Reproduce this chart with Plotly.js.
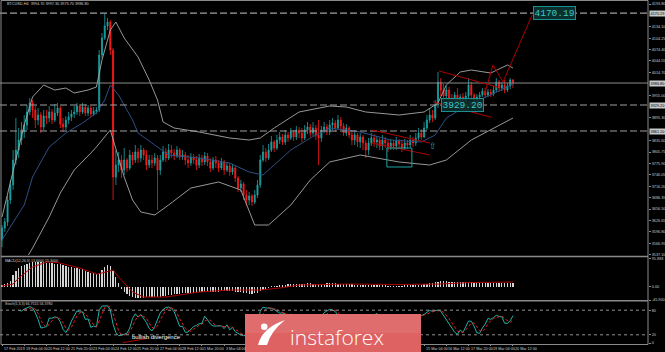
<!DOCTYPE html>
<html><head><meta charset="utf-8">
<script src="https://cdn.plot.ly/plotly-3.0.1.min.js"></script>
<style>html,body{margin:0;padding:0;background:#000;overflow:hidden}#chart{width:665px;height:352px}</style>
</head><body><div id="chart"></div>
<script>
// ---------------- DATA ----------------
const symbolTitle = 'BTCUSD,H4';
const firstOpen = 3575.5;   // open of the first H4 bar; later opens = previous close (24/7 market)
const close = [
3606.9,3622.7,3680.3,3719.6,3785.1,3811.3,3837.5,3858.5,3876.8,3910.9,
3934.4,3916.1,3889.9,3903.0,3871.6,3900.4,3895.1,3910.9,3889.9,3908.2,
3921.3,3879.4,3871.6,3889.9,3897.8,3905.6,3910.9,3926.6,3910.9,3924.0,
3908.2,3921.3,3905.6,3913.5,3916.1,4060.2,4104.7,4136.2,4146.7,4073.3,
3740.6,3772.0,3785.1,3758.9,3785.1,3764.1,3798.2,3785.1,3806.1,3790.3,
3811.3,3798.2,3772.0,3785.1,3777.2,3790.3,3758.9,3785.1,3806.1,3790.3,
3811.3,3803.4,3795.6,3811.3,3793.0,3798.2,3785.1,3777.2,3793.0,3785.1,
3772.0,3790.3,3779.9,3795.6,3779.9,3764.1,3785.1,3777.2,3764.1,3779.9,
3758.9,3769.4,3753.7,3764.1,3737.9,3711.7,3722.2,3693.4,3680.3,3690.8,
3675.1,3693.4,3719.6,3785.1,3806.1,3790.3,3811.3,3832.3,3816.5,3837.5,
3845.4,3832.3,3850.6,3842.7,3858.5,3845.4,3863.7,3855.8,3842.7,3863.7,
3871.6,3855.8,3868.9,3850.6,3842.7,3863.7,3871.6,3858.5,3876.8,3882.0,
3868.9,3889.9,3874.2,3855.8,3868.9,3850.6,3837.5,3850.6,3832.3,3845.4,
3829.6,3811.3,3829.6,3842.7,3832.3,3837.5,3821.8,3837.5,3829.6,3819.2,
3829.6,3821.8,3834.9,3827.0,3816.5,3829.6,3824.4,3837.5,3829.6,3842.7,
3855.8,3845.4,3868.9,3889.9,3903.0,3895.1,3929.2,3989.5,3968.5,3952.8,
3968.5,3947.5,3942.3,3955.4,3937.1,3950.2,3942.3,3952.8,3981.6,3955.4,
3942.3,3950.2,3955.4,3965.9,3955.4,3963.3,3958.0,3968.5,3989.5,3973.7,
3981.6,3968.5,3979.0,3994.7,3986.8];
const high = [
3614.8,3633.1,3690.8,3732.7,3811.3,3895.1,3868.9,3884.7,3903.0,3929.2,
3947.5,3942.3,3926.6,3921.3,3910.9,3916.1,3916.1,3926.6,3918.7,3931.8,
3934.4,3926.6,3895.1,3900.4,3910.9,3916.1,3926.6,3934.4,3931.8,3934.4,
3931.8,3929.2,3926.6,3924.0,3924.0,4073.3,4117.8,4170.2,4157.1,4151.9,
4078.5,3811.3,3806.1,3798.2,3816.5,3790.3,3811.3,3806.1,3824.4,3816.5,
3824.4,3816.5,3811.3,3798.2,3798.2,3803.4,3798.2,3798.2,3821.8,3816.5,
3827.0,3824.4,3813.9,3821.8,3816.5,3811.3,3806.1,3798.2,3803.4,3800.8,
3795.6,3800.8,3798.2,3806.1,3803.4,3790.3,3793.0,3795.6,3785.1,3790.3,
3785.1,3779.9,3777.2,3774.6,3769.4,3743.2,3732.7,3727.5,3706.5,3701.3,
3696.0,3706.5,3732.7,3798.2,3824.4,3816.5,3827.0,3848.0,3837.5,3850.6,
3858.5,3853.2,3863.7,3858.5,3868.9,3863.7,3874.2,3871.6,3868.9,3876.8,
3884.7,3879.4,3884.7,3876.8,3889.9,3874.2,3884.7,3879.4,3889.9,3895.1,
3889.9,3903.0,3897.8,3882.0,3879.4,3874.2,3863.7,3863.7,3855.8,3855.8,
3850.6,3837.5,3842.7,3855.8,3853.2,3848.0,3842.7,3850.6,3845.4,3837.5,
3840.1,3837.5,3845.4,3840.1,3837.5,3840.1,3837.5,3850.6,3845.4,3855.8,
3868.9,3866.3,3884.7,3903.0,3921.3,3916.1,3942.3,4015.7,3999.9,3984.2,
3979.0,3976.4,3958.0,3963.3,3973.7,3958.0,3960.6,3963.3,3999.9,3989.5,
3960.6,3958.0,3963.3,3973.7,3973.7,3971.1,3971.1,3979.0,3999.9,3994.7,
3989.5,3994.7,3986.8,3999.9,3997.3];
const low = [
3557.2,3596.5,3612.2,3669.8,3706.5,3772.0,3790.3,3824.4,3842.7,3863.7,
3903.0,3895.1,3868.9,3876.8,3855.8,3863.7,3879.4,3884.7,3879.4,3884.7,
3900.4,3868.9,3858.5,3863.7,3879.4,3887.3,3895.1,3903.0,3900.4,3905.6,
3900.4,3900.4,3897.8,3900.4,3905.6,3910.9,4052.3,4099.5,4125.7,4060.2,
3680.3,3719.6,3753.7,3737.9,3745.8,3753.7,3758.9,3772.0,3777.2,3777.2,
3779.9,3785.1,3758.9,3764.1,3764.1,3769.4,3654.1,3745.8,3779.9,3779.9,
3785.1,3790.3,3785.1,3790.3,3785.1,3785.1,3772.0,3764.1,3769.4,3774.6,
3758.9,3764.1,3769.4,3772.0,3769.4,3753.7,3758.9,3764.1,3753.7,3758.9,
3745.8,3753.7,3743.2,3745.8,3727.5,3701.3,3701.3,3680.3,3664.6,3667.2,
3664.6,3669.8,3685.5,3711.7,3779.9,3779.9,3785.1,3806.1,3806.1,3811.3,
3827.0,3824.4,3824.4,3832.3,3837.5,3834.9,3837.5,3842.7,3832.3,3837.5,
3853.2,3845.4,3848.0,3837.5,3772.0,3832.3,3855.8,3850.6,3850.6,3863.7,
3858.5,3863.7,3863.7,3848.0,3848.0,3842.7,3824.4,3824.4,3819.2,3816.5,
3811.3,3790.3,3798.2,3821.8,3819.2,3816.5,3811.3,3811.3,3816.5,3806.1,
3811.3,3811.3,3811.3,3816.5,3806.1,3811.3,3813.9,3816.5,3819.2,3821.8,
3834.9,3837.5,3842.7,3863.7,3882.0,3884.7,3889.9,3921.3,3952.8,3942.3,
3944.9,3937.1,3934.4,3937.1,3931.8,3934.4,3931.8,3937.1,3947.5,3942.3,
3934.4,3937.1,3944.9,3950.2,3947.5,3950.2,3950.2,3952.8,3963.3,3963.3,
3965.9,3960.6,3963.3,3971.1,3973.7];

// Bollinger Bands (20,2) at sample bars
const bbUpperBars = [0,4,8,11,15,19,23,26,31,34,36,39,41,44,49,53,56,58,62,71,82,89,93,98,107,118,124,131,143,152,157,160,165,169,176,182,184];
const bbUpper = [3635.8,3758.9,3876.8,3950.2,3981.6,3968.5,3973.7,3960.6,3968.5,3976.4,4047.1,4125.7,4146.7,4104.7,4055.0,3994.7,3942.3,3884.7,3868.9,3858.5,3842.7,3837.5,3842.7,3868.9,3910.9,3926.6,3924.0,3910.9,3903.0,3910.9,3934.4,3981.6,4015.7,4020.9,4013.0,4034.0,4026.1];
const bbMidBars = [0,4,8,11,17,23,29,34,37,39,42,47,49,55,60,71,82,89,94,98,104,111,118,129,140,151,156,160,169,176,184];
const bbMid = [3575.5,3622.7,3667.2,3740.6,3819.2,3855.8,3882.0,3908.2,3942.3,3981.6,3955.4,3889.9,3855.8,3824.4,3798.2,3790.3,3777.2,3753.7,3745.8,3772.0,3811.3,3842.7,3868.9,3858.5,3837.5,3832.3,3850.6,3895.1,3934.4,3955.4,3984.2];
const bbLowerBars = [0,8,11,17,21,26,32,34,39,44,47,50,55,60,68,78,86,91,96,104,111,118,129,143,154,160,169,176,184];
const bbLower = [3517.9,3517.9,3554.5,3635.8,3698.6,3758.9,3803.4,3819.2,3863.7,3740.6,3680.3,3648.9,3641.0,3667.2,3711.7,3727.5,3706.5,3614.8,3614.8,3667.2,3732.7,3779.9,3798.2,3779.9,3772.0,3785.1,3837.5,3863.7,3895.1];

// MACD(12,26,9): histogram per bar and signal line at sample bars
const macdHist = [
6.8,10.2,13.6,20.4,40.8,54.4,64.6,71.4,74.8,78.2,81.6,
83.3,85.0,85.0,83.3,83.3,81.6,
81.6,79.9,78.2,78.2,76.5,74.8,71.4,
68.0,66.3,64.6,62.9,61.2,59.5,
54.4,51.0,47.6,45.9,44.2,
47.6,57.8,68.0,73.1,71.4,54.4,34.0,13.6,
-6.8,-17.0,-23.8,-30.6,-34.0,
-37.4,-37.4,-37.4,
-37.4,-35.7,-35.7,-34.0,-34.0,-35.7,-34.0,
-32.3,-30.6,-28.9,-27.2,-25.5,-23.8,-23.8,
-22.1,-22.1,-22.1,-20.4,-20.4,-20.4,-18.7,
-18.7,-17.0,-17.0,-17.0,-17.0,-17.0,-17.0,-15.3,-15.3,-15.3,-15.3,-15.3,-17.0,
-17.0,-18.7,-20.4,-22.1,-23.8,-23.8,-22.1,-20.4,
-15.3,-10.2,-6.8,-3.4,0.3,
1.7,3.4,5.1,6.8,6.8,8.5,8.5,10.2,10.2,10.2,10.2,10.2,11.9,
11.9,10.2,10.2,10.2,10.2,10.2,11.9,11.9,11.9,11.9,10.2,10.2,10.2,10.2,8.5,
8.5,6.8,6.8,6.8,5.1,5.1,5.1,5.1,5.1,5.1,5.1,5.1,5.1,3.4,3.4,3.4,3.4,3.4,3.4,5.1,5.1,5.1,5.1,6.8,6.8,6.8,8.5,
10.2,11.9,13.6,15.3,17.0,18.7,18.7,18.7,17.0,17.0,17.0,17.0,
15.3,15.3,15.3,15.3,15.3,15.3,15.3,
13.6,13.6,13.6,13.6,13.6,13.6,13.6,13.6,13.6,13.6,13.6,13.6,13.6];
const macdSignalBars = [0,4,6,11,16,20,28,34,36,40,42,47,51,59,71,82,93,100,107,125,143,158,169,184];
const macdSignal = [1.7,8.5,28.9,66.3,83.3,81.6,62.9,42.5,45.9,56.1,32.3,-18.7,-35.7,-35.7,-18.7,-11.9,-11.9,-5.1,5.1,8.5,6.8,8.5,13.6,15.3];

// Axis labels
const dateLabels = ['17 Feb 2019','19 Feb 04:00','20 Feb 12:00','21 Feb 20:00','23 Feb 04:00','24 Feb 12:00','25 Feb 20:00','27 Feb 04:00','28 Feb 12:00','1 Mar 20:00','3 Mar 04:00','4 Mar 12:00','5 Mar 20:00','7 Mar 04:00','8 Mar 12:00','9 Mar 20:00','11 Mar 04:00','12 Mar 12:00','13 Mar 20:00','15 Mar 04:00','16 Mar 12:00','17 Mar 20:00','19 Mar 04:00','20 Mar 12:00'];
const dateLabelBars = [0,8,16,24,32,40,48,56,64,72,80,88,96,104,112,120,128,136,144,152,160,168,176,184];
// right price scale (labels hidden behind the line-price boxes are left out, as the terminal does)
const priceTicks = [4193.80,4134.10,4104.25,4074.40,4044.55,4014.70,3955.00,3895.30,3835.60,3805.75,3775.90,3746.05,3716.20,3686.35,3656.50,3626.65,3596.80,3566.95,3537.10];
const dashedLevels = [4170.19, 3929.20, 3861.10];
const bidPrice = 3986.80;
const macdTicks = [95.883, 0, -45.9];
const macdTickText = ['95.883','0.00','-45.900'];
const stochTicks = [80,20,0];
const targetLabel = 4170.19, supportLabel = 3929.20;

// ---------------- GEOMETRY ----------------
const W=665,H=352, mL=0,mR=17,mT=1,mB=8;
const PW=W-mL-mR, PH=H-mT-mB;           // 648 x 343
const px2x = p => (p-mL)/PW;
const py2y = p => (mT+PH-p)/PH;
const barPx = 2.777, bar0 = 2;            // pixel position of bar i = 2 + 2.777*i
const xr = [(0-bar0)/barPx, (PW-bar0)/barPx];
const barAt = p => (p-bar0)/barPx;

const n = close.length;
const bars = close.map((_,i)=>i);
const open = [firstOpen].concat(close.slice(0,n-1));

// Stochastic(5,3,3) computed from the candle arrays (as the terminal does)
const kP=5, slowP=3, dP=3;
const num=[], den=[];
for(let i=0;i<n;i++){
  if(i<kP-1){num.push(null);den.push(null);continue;}
  let hh=-Infinity, ll=Infinity;
  for(let j=i-kP+1;j<=i;j++){hh=Math.max(hh,high[j]);ll=Math.min(ll,low[j]);}
  num.push(close[i]-ll); den.push(hh-ll);
}
const stK=[], stKx=[];
for(let i=kP-1+slowP-1;i<n;i++){
  let a=0,b=0; for(let j=i-slowP+1;j<=i;j++){a+=num[j];b+=den[j];}
  stK.push(b>0?100*a/b:50); stKx.push(i);
}
const stD=[], stDx=[];
for(let k=dP-1;k<stK.length;k++){
  let s=0; for(let j=k-dP+1;j<=k;j++) s+=stK[j];
  stD.push(s/dP); stDx.push(stKx[k]);
}

// ---------------- TRACES ----------------
const up='#1ca3a3', dn='#ff1a1a';
const data = [
 {type:'candlestick', x:bars, open:open, high:high, low:low, close:close, xaxis:'x', yaxis:'y',
  increasing:{line:{color:up,width:0.8},fillcolor:up}, decreasing:{line:{color:dn,width:0.8},fillcolor:dn},
  whiskerwidth:0, hoverinfo:'skip'},
 {type:'scatter', mode:'lines', x:bbUpperBars, y:bbUpper, yaxis:'y', line:{color:'#a8a8a8',width:0.9}, hoverinfo:'skip'},
 {type:'scatter', mode:'lines', x:bbLowerBars, y:bbLower, yaxis:'y', line:{color:'#a8a8a8',width:0.9}, hoverinfo:'skip'},
 {type:'scatter', mode:'lines', x:bbMidBars, y:bbMid, yaxis:'y', line:{color:'#2f4f86',width:1}, hoverinfo:'skip'},
 {type:'bar', x:bars, y:macdHist, yaxis:'y2', width:0.45, marker:{color:'#d4d4d4',line:{width:0}}, hoverinfo:'skip'},
 {type:'scatter', mode:'lines', x:macdSignalBars, y:macdSignal, yaxis:'y2', line:{color:'#b00000',width:1}, hoverinfo:'skip'},
 {type:'scatter', mode:'lines', x:stKx, y:stK, yaxis:'y3', line:{color:'#20b2aa',width:1}, hoverinfo:'skip'},
 {type:'scatter', mode:'lines', x:stDx, y:stD, yaxis:'y3', line:{color:'#e02020',width:1,dash:'3px,2px'}, hoverinfo:'skip'}
];

// ---------------- SHAPES ----------------
const shapes=[];
dashedLevels.forEach(v=>shapes.push({type:'line',xref:'paper',x0:0,x1:1,yref:'y',y0:v,y1:v,line:{color:'#a0a0a0',width:1.2,dash:'7px,3px'}}));
shapes.push({type:'line',xref:'paper',x0:0,x1:1,yref:'y',y0:bidPrice,y1:bidPrice,line:{color:'#8c8c8c',width:1}});
[80,20].forEach(v=>shapes.push({type:'line',xref:'paper',x0:0,x1:1,yref:'y3',y0:v,y1:v,line:{color:'#909090',width:1,dash:'dot'}}));
// frames / separators
const frameC='#8a8a8a';
shapes.push({type:'rect',xref:'paper',yref:'paper',x0:px2x(1),x1:px2x(648),y0:py2y(344.5),y1:py2y(0.5),line:{color:frameC,width:1}});
[256.5,300.8].forEach(p=>shapes.push({type:'line',xref:'paper',yref:'paper',x0:px2x(1),x1:px2x(648),y0:py2y(p),y1:py2y(p),line:{color:frameC,width:1.4}}));
// analyst drawings (red)
const red='#b00000';
function seg(x0,y0,x1,y1,yref,color,w){shapes.push({type:'line',xref:'x',yref:yref||'y',x0,y0,x1,y1,line:{color:color||red,width:w||1}});}
seg(157.4,4018.3,178.3,3976.4);
seg(155.2,3937.8,176.3,3897.0);
seg(173.9,3960.6,176.8,4034.0); seg(176.8,4034.0,180.4,3989.5); seg(180.4,3989.5,190.9,4165.0);
seg(133.2,3863.7,154.1,3829.6); seg(133.2,3829.6,154.1,3798.2);
shapes.push({type:'rect',xref:'x',yref:'y',x0:138.6,x1:147.6,y0:3766.8,y1:3816.5,line:{color:up,width:1}});
seg(43.6,1,53.3,12,'y3',red,1);
// logo
const L=[245,421,314,352];
shapes.push({type:'rect',xref:'paper',yref:'paper',x0:px2x(L[0]),x1:px2x(L[1]),y0:py2y(L[3]),y1:py2y(L[2]),fillcolor:'#de6262',line:{width:0},layer:'above'});
shapes.push({type:'rect',xref:'paper',yref:'paper',x0:px2x(L[0]),x1:px2x(L[1]),y0:py2y(333),y1:py2y(L[2]),fillcolor:'rgba(255,255,255,0.07)',line:{width:0},layer:'above'});
function pth(pts){return pts.map((p,i)=>p[0]+' '+px2x(p[1]).toFixed(5)+','+py2y(p[2]).toFixed(5)).join(' ')+' Z';}
shapes.push({type:'path',xref:'paper',yref:'paper',path:pth([['M',258,345],['Q',262,328],['',285,320],['Q',271,331],['',267,345]]),fillcolor:'#ffffff',line:{width:0}});
shapes.push({type:'circle',xref:'paper',yref:'paper',x0:px2x(261),x1:px2x(267.5),y0:py2y(330),y1:py2y(323.5),fillcolor:'#ffffff',line:{width:0}});

// ---------------- ANNOTATIONS ----------------
const ann=[];
const txtC='#cfcfcf';
const lastI=n-1;
ann.push({xref:'paper',yref:'paper',x:px2x(5),y:py2y(4),xanchor:'left',yanchor:'middle',showarrow:false,
  text:symbolTitle+'  '+open[lastI].toFixed(2)+' '+high[lastI].toFixed(2)+' '+low[lastI].toFixed(2)+' '+close[lastI].toFixed(2),
  font:{size:3.8,color:txtC,family:'Liberation Sans'}});
ann.push({xref:'paper',yref:'paper',x:px2x(3),y:py2y(261),xanchor:'left',yanchor:'middle',showarrow:false,
  text:'MACD(12,26,9) '+macdHist[lastI].toFixed(4)+' '+macdSignal[macdSignal.length-1].toFixed(4),
  font:{size:3.6,color:txtC,family:'Liberation Sans'}});
ann.push({xref:'paper',yref:'paper',x:px2x(3),y:py2y(304),xanchor:'left',yanchor:'middle',showarrow:false,
  text:'Stoch(5,3,3) '+stK[stK.length-1].toFixed(4)+' '+stD[stD.length-1].toFixed(4),
  font:{size:3.6,color:txtC,family:'Liberation Sans'}});
dateLabels.forEach((t,k)=>{
  const b=dateLabelBars[k]; const p=bar0+barPx*b;
  if(p+20>L[0] && p<L[1]) return;   // hidden behind the logo
  ann.push({xref:'x',yref:'paper',x:b,y:py2y(348.6),xanchor:'left',yanchor:'middle',showarrow:false,text:t,
    font:{size:3.7,color:txtC,family:'Liberation Sans'}});
});
// price-line labels on the right scale
[dashedLevels[0],bidPrice,dashedLevels[1],dashedLevels[2]].forEach(v=>{
  ann.push({xref:'paper',yref:'y',x:1,xshift:1,y:v,xanchor:'left',yanchor:'middle',showarrow:false,text:v.toFixed(2),
    bgcolor:'#c8c8c8',borderpad:0.6,font:{size:3.8,color:'#000',family:'Liberation Sans'}});
});
// chart text objects
ann.push({xref:'x',yref:'y',x:barAt(554),y:targetLabel,xanchor:'center',yanchor:'middle',showarrow:false,text:targetLabel.toFixed(2),
  bgcolor:'#0a2f2f',bordercolor:'#1c8f8f',borderwidth:1,borderpad:0.5,font:{size:9.5,color:'#3cc8c8',family:'Liberation Mono'}});
ann.push({xref:'x',yref:'y',x:barAt(462.5),y:supportLabel,xanchor:'center',yanchor:'middle',showarrow:false,text:supportLabel.toFixed(2),
  bgcolor:'rgba(10,47,47,0.85)',bordercolor:'#1c8f8f',borderwidth:1,borderpad:0.5,font:{size:9.5,color:'#3cc8c8',family:'Liberation Mono'}});
ann.push({xref:'x',yref:'y',x:barAt(433),y:3821.8,xanchor:'center',yanchor:'middle',showarrow:false,text:'⇧',
  font:{size:9,color:up,family:'DejaVu Sans'}});
ann.push({xref:'paper',yref:'paper',x:px2x(130),y:py2y(337),xanchor:'left',yanchor:'middle',showarrow:false,text:'bullish divergence',
  font:{size:6,color:'#ffffff',family:'Liberation Sans'}});
ann.push({xref:'paper',yref:'paper',x:px2x(288),y:py2y(337),xanchor:'left',yanchor:'middle',showarrow:false,text:'instaforex',
  font:{size:21,color:'#ffffff',family:'Open Sans',weight:300}});

// ---------------- LAYOUT ----------------
const yBase = {side:'right',showgrid:false,zeroline:false,showline:false,ticks:'outside',ticklen:2,tickcolor:'#888',
  tickfont:{size:3.8,color:'#c8c8c8',family:'Liberation Sans'},fixedrange:true,anchor:'x'};
const layout = {
  width:W,height:H,margin:{l:mL,r:mR,t:mT,b:mB,pad:0},
  paper_bgcolor:'#000',plot_bgcolor:'#000',showlegend:false,boxgap:0.45,bargap:0,
  font:{family:'Liberation Sans',color:txtC},
  xaxis:{range:xr,anchor:'y3',showgrid:false,zeroline:false,showline:false,ticks:'outside',ticklen:2,tickcolor:'#888',
    tickvals:dateLabelBars,showticklabels:false,rangeslider:{visible:false},fixedrange:true},
  yaxis:Object.assign({},yBase,{domain:[py2y(255),py2y(1)],range:[3536.2,4201.7],tickvals:priceTicks,tickformat:'.2f'}),
  yaxis2:Object.assign({},yBase,{domain:[py2y(300),py2y(258)],range:[-45.9,96.9],tickvals:macdTicks,ticktext:macdTickText}),
  yaxis3:Object.assign({},yBase,{domain:[py2y(343),py2y(302)],range:[0,100],tickvals:stochTicks,ticktext:stochTicks.map(String)}),
  shapes:shapes, annotations:ann
};
Plotly.newPlot('chart',data,layout,{staticPlot:true,displayModeBar:false});
</script></body></html>
